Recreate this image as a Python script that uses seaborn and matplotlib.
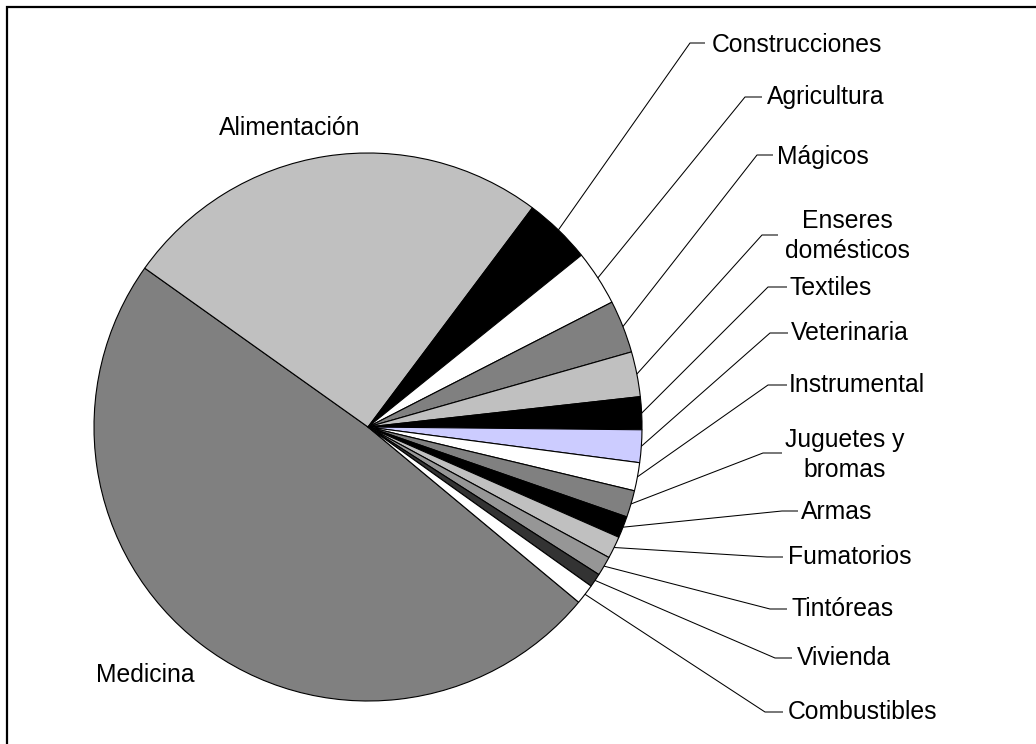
import numpy as np
import matplotlib
matplotlib.use("Agg")
import matplotlib.pyplot as plt
import seaborn as sns

sns.set_theme(style="white")
plt.rcParams['font.family'] = ['Liberation Sans', 'DejaVu Sans']

# ---- data ----
categories = ["Medicina", "Alimentación", "Construcciones", "Agricultura", "Mágicos",
              "Enseres\ndomésticos", "Textiles", "Veterinaria", "Instrumental",
              "Juguetes y\nbromas", "Armas", "Fumatorios", "Tintóreas", "Vivienda",
              "Combustibles"]
values = [48.8, 25.4, 3.97, 3.26, 3.11, 2.65, 1.93, 1.92, 1.66, 1.58, 1.27, 1.31, 1.15, 0.81, 1.18]
colors = ["#808080", "#C0C0C0", "#000000", "#FFFFFF", "#808080", "#C0C0C0", "#000000",
          "#CCCCFF", "#FFFFFF", "#808080", "#000000", "#C0C0C0", "#969696", "#333333",
          "#FFFFFF"]

# ---- layout (pixel coords, y down) ----
W, H = 1036, 744
center_px = (368, 427)
radius_px = 274
start_angle = -39.75
# inside labels: (x, y)
plain_labels = {"Medicina": (145, 675), "Alimentación": (290, 128)}
# leader labels: (elbow_x, elbow_y, line_end_x, text_x, text_y, ha)
leader_layout = {
    "Construcciones": (690, 43, 705, 712, 45, "left"),
    "Agricultura": (745, 97, 762, 767, 97, "left"),
    "Mágicos": (757, 155, 773, 777, 157, "left"),
    "Enseres\ndomésticos": (762, 235, 778, 847, 236, "center"),
    "Textiles": (768, 287, 787, 790, 288, "left"),
    "Veterinaria": (770, 333, 788, 791, 333, "left"),
    "Instrumental": (768, 385, 787, 789, 385, "left"),
    "Juguetes y\nbromas": (763, 453, 782, 845, 455, "center"),
    "Armas": (782, 511, 798, 801, 512, "left"),
    "Fumatorios": (767, 557, 783, 788, 557, "left"),
    "Tintóreas": (770, 609, 787, 792, 609, "left"),
    "Vivienda": (775, 658, 792, 797, 658, "left"),
    "Combustibles": (765, 712, 783, 788, 712, "left"),
}

fig = plt.figure(figsize=(W / 100, H / 100), dpi=100)
ax = fig.add_axes([0, 0, 1, 1])

def Y(y):
    return H - y

wedges, _ = ax.pie(values, colors=colors, startangle=start_angle, counterclock=False,
                   radius=radius_px, center=(center_px[0], Y(center_px[1])),
                   wedgeprops=dict(edgecolor="black", linewidth=0.8), frame=False)

ax.set_xlim(0, W)
ax.set_ylim(0, H)
ax.set_aspect("equal")
ax.axis("off")

fs = 17.8
for name, (x, y) in plain_labels.items():
    ax.text(x, Y(y), name, fontsize=fs, ha="center", va="center", color="black")

for w, name in zip(wedges, categories):
    if name not in leader_layout:
        continue
    ex, ey, lx, tx, ty, ha = leader_layout[name]
    mid = np.deg2rad((w.theta1 + w.theta2) / 2)
    sx = w.center[0] + w.r * np.cos(mid)
    sy = w.center[1] + w.r * np.sin(mid)
    ax.plot([sx, ex, lx], [sy, Y(ey), Y(ey)], color="black", lw=0.75,
            solid_capstyle="butt", clip_on=False)
    ax.text(tx, Y(ty), name, fontsize=fs, ha=ha, va="center", multialignment="center",
            color="black", linespacing=1.3)

# outer frame (left and top edges visible)
ax.plot([7, 7, W + 5], [-5, Y(7), Y(7)], color="black", lw=1.6, clip_on=False,
        solid_joinstyle="miter")

fig.savefig("out.png", dpi=100, facecolor="white")
